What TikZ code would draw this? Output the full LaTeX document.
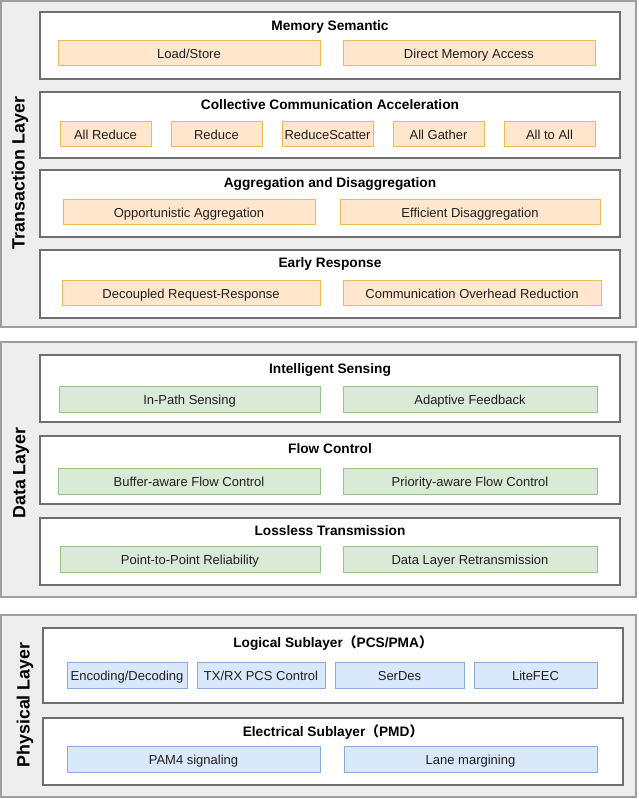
\documentclass[tikz,border=0pt]{standalone}
\usepackage{fontspec}
\setmainfont{Liberation Sans}
\newfontfamily\cjk{Noto Sans CJK SC}
\definecolor{layergray}{HTML}{EEEEEE}
\definecolor{layerline}{HTML}{9E9E9E}
\definecolor{groupline}{HTML}{6E6E6E}
\definecolor{orangefill}{HTML}{FFE6CC}
\definecolor{orangeline}{HTML}{EDBB55}
\definecolor{greenfill}{HTML}{D9EBD6}
\definecolor{greenline}{HTML}{97C48A}
\definecolor{bluefill}{HTML}{DAE8FC}
\definecolor{blueline}{HTML}{89ABDD}
\begin{document}
\begin{tikzpicture}[x=1pt, y=-1pt,
    layerbox/.style={draw=layerline, fill=layergray, line width=1.2pt},
    groupbox/.style={draw=groupline, fill=white, line width=1.2pt},
    item/.style={minimum height=25.5pt, inner sep=0pt, line width=1pt,
      text height=10.4pt, text depth=0pt,
      font=\fontsize{13}{15}\selectfont, text=black!88},
    orangeitem/.style={item, draw=orangeline, fill=orangefill},
    greenitem/.style={item, draw=greenline, fill=greenfill},
    blueitem/.style={item, draw=blueline, fill=bluefill},
    grouptitle/.style={inner sep=0pt, text height=9.8pt, text depth=0.6pt,
      font=\fontsize{13.7}{16}\selectfont\bfseries},
    layerlabel/.style={rotate=90, inner sep=0pt, font=\fontsize{17.8}{20}\selectfont\bfseries}]
  \useasboundingbox (0,0) rectangle (638,799);

  % transaction layer
  \filldraw[layerbox] (1,1) rectangle (636,327);
  \node[layerlabel] (translabel) at (20,173) {Transaction Layer};

  \filldraw[groupbox] (40,12) rectangle (620,79);
  \node[grouptitle] (memtitle) at (330,26) {Memory Semantic};
  \node[orangeitem, minimum width=262pt] (loadstore) at (189,53) {Load/Store};
  \node[orangeitem, minimum width=252pt] (dma) at (469,53) {Direct Memory Access};

  \filldraw[groupbox] (40,92) rectangle (620,158);
  \node[grouptitle] (colltitle) at (330,105) {Collective Communication Acceleration};
  \node[orangeitem, minimum width=91pt] (allreduce) at (105.5,134) {All Reduce};
  \node[orangeitem, minimum width=91pt] (reduce) at (216.5,134) {Reduce};
  \node[orangeitem, minimum width=91pt] (reducescatter) at (327.5,134) {ReduceScatter};
  \node[orangeitem, minimum width=91pt] (allgather) at (438.5,134) {All Gather};
  \node[orangeitem, minimum width=91pt] (alltoall) at (549.5,134) {All to All};

  \filldraw[groupbox] (40,170) rectangle (620,237);
  \node[grouptitle] (aggtitle) at (330,183) {Aggregation and Disaggregation};
  \node[orangeitem, minimum width=252pt] (opportunistic) at (189,212) {Opportunistic Aggregation};
  \node[orangeitem, minimum width=260pt] (efficient) at (470,212) {Efficient Disaggregation};

  \filldraw[groupbox] (40,250) rectangle (620,318);
  \node[grouptitle] (earlytitle) at (330,263) {Early Response};
  \node[orangeitem, minimum width=258pt] (decoupled) at (191,293) {Decoupled Request-Response};
  \node[orangeitem, minimum width=258pt] (overhead) at (472,293) {Communication Overhead Reduction};

  % data layer
  \filldraw[layerbox] (1,342) rectangle (636,597);
  \node[layerlabel] (datalabel) at (21,473) {Data Layer};

  \filldraw[groupbox] (40,355) rectangle (620,422);
  \node[grouptitle] (sensetitle) at (330,369) {Intelligent Sensing};
  \node[greenitem, minimum width=261pt] (inpath) at (189.5,399.5) {In-Path Sensing};
  \node[greenitem, minimum width=254pt] (adaptive) at (470,399.5) {Adaptive Feedback};

  \filldraw[groupbox] (40,436) rectangle (620,504);
  \node[grouptitle] (flowtitle) at (330,449) {Flow Control};
  \node[greenitem, minimum width=262pt] (bufferfc) at (189,481.5) {Buffer-aware Flow Control};
  \node[greenitem, minimum width=254pt] (priorityfc) at (470,481.5) {Priority-aware Flow Control};

  \filldraw[groupbox] (40,518) rectangle (620,585);
  \node[grouptitle] (losstitle) at (330,531) {Lossless Transmission};
  \node[greenitem, minimum width=260pt] (p2p) at (190,559.5) {Point-to-Point Reliability};
  \node[greenitem, minimum width=254pt] (retrans) at (470,559.5) {Data Layer Retransmission};

  % physical layer
  \filldraw[layerbox] (1,615) rectangle (636,797);
  \node[layerlabel] (phylabel) at (25,705) {Physical Layer};

  \filldraw[groupbox] (43,628) rectangle (623,703);
  \node[grouptitle] (logictitle) at (333,643) {Logical Sublayer{\cjk （}PCS/PMA{\cjk ）}};
  \node[blueitem, minimum width=120pt] (encoding) at (127,675.5) {Encoding/Decoding};
  \node[blueitem, minimum width=128pt] (pcsctrl) at (261,675.5) {TX/RX PCS Control};
  \node[blueitem, minimum width=129pt] (serdes) at (399.5,675.5) {SerDes};
  \node[blueitem, minimum width=123pt] (litefec) at (535.5,675.5) {LiteFEC};

  \filldraw[groupbox] (43,718) rectangle (623,785);
  \node[grouptitle] (electitle) at (333,732) {Electrical Sublayer{\cjk （}PMD{\cjk ）}};
  \node[blueitem, minimum width=253pt] (pam4) at (193.5,759.5) {PAM4 signaling};
  \node[blueitem, minimum width=253pt] (margining) at (470.5,759.5) {Lane margining};
\end{tikzpicture}
\end{document}
